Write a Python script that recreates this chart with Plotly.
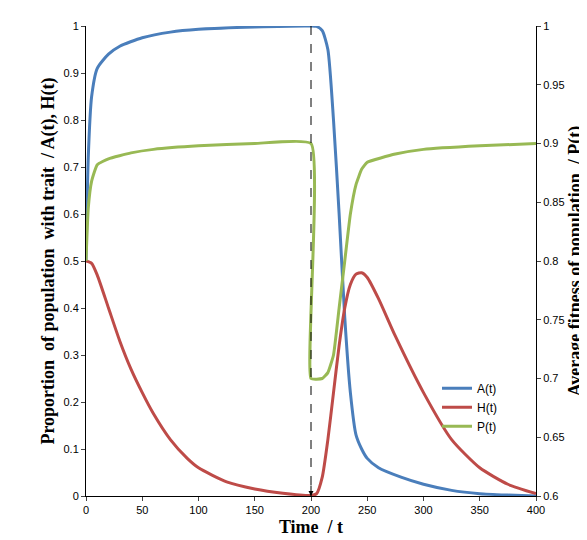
import plotly.graph_objects as go

tA = [0,2,5,10,20,30,50,75,100,150,200,205,210,215,220,225,230,235,240,245,250,260,280,300,325,350,375,400]
A = [0.5,0.72,0.85,0.91,0.94,0.957,0.975,0.987,0.993,0.998,1,0.999,0.99,0.95,0.8,0.6,0.38,0.22,0.13,0.1,0.08,0.06,0.04,0.025,0.012,0.005,0.002,0.0]
tH = [0,5,10,20,30,40,50,60,75,90,100,125,150,175,200,205,210,215,220,225,230,235,240,245,250,260,275,300,325,350,375,400]
H = [0.5,0.495,0.47,0.4,0.33,0.27,0.22,0.175,0.12,0.08,0.06,0.03,0.015,0.006,0.001,0.005,0.04,0.12,0.22,0.32,0.4,0.45,0.472,0.475,0.465,0.42,0.34,0.22,0.12,0.06,0.025,0.005]
tP = [0,2,5,10,20,40,60,100,150,200,200,210,215,220,225,230,235,240,245,250,275,300,350,400]
P = [0.8,0.845,0.868,0.882,0.887,0.892,0.895,0.898,0.9,0.9,0.7,0.7,0.705,0.72,0.76,0.8,0.84,0.865,0.878,0.884,0.891,0.895,0.898,0.9]

fig = go.Figure()
fig.add_trace(go.Scatter(x=tA, y=A, name="A(t)", mode="lines", line=dict(color="#4A7EBB", width=3, shape="spline", smoothing=0.6)))
fig.add_trace(go.Scatter(x=tH, y=H, name="H(t)", mode="lines", line=dict(color="#BE4B48", width=3, shape="spline", smoothing=0.6)))
fig.add_trace(go.Scatter(x=tP, y=P, name="P(t)", mode="lines", yaxis="y2", line=dict(color="#98B954", width=3, shape="spline", smoothing=0.4)))

fig.add_shape(type="line", x0=200, x1=200, y0=1, y1=0, xref="x", yref="y", line=dict(color="black", width=1, dash="dash"))
fig.add_annotation(x=200, y=0, xref="x", yref="y", ax=0, ay=-12, showarrow=True, arrowhead=2, arrowsize=1, arrowwidth=1, arrowcolor="black", text="")

tickfont = dict(family="Liberation Sans", size=11, color="black")
titlefont = dict(family="Liberation Serif", size=18, color="black")
fig.update_layout(
    width=587, height=540, plot_bgcolor="white", paper_bgcolor="white",
    margin=dict(l=78, r=59, t=18, b=52, autoexpand=False),
    xaxis=dict(range=[0, 400], dtick=50, showline=True, linecolor="black", showgrid=False, zeroline=False,
               ticks="outside", ticklen=4, tickfont=tickfont, automargin=False,
               title=dict(text="<b>Time  / t</b>", font=titlefont, standoff=5)),
    yaxis=dict(range=[0, 1], dtick=0.1, showline=True, linecolor="black", showgrid=False, zeroline=False,
               ticks="outside", ticklen=4, tickfont=tickfont, automargin=False,
               title=dict(text="<b>Proportion  of population  with trait  / A(t), H(t)</b>", font=titlefont, standoff=4)),
    yaxis2=dict(range=[0.6, 1], dtick=0.05, overlaying="y", side="right", showline=True, linecolor="black",
                showgrid=False, zeroline=False, ticks="outside", ticklen=4, tickfont=tickfont, automargin=False,
                title=dict(text="<b>Average fitness of population  / P(t)</b>", font=titlefont, standoff=4)),
    legend=dict(x=0.78, y=0.26, xanchor="left", yanchor="top", font=dict(family="Liberation Sans", size=12, color="black"),
                bgcolor="rgba(0,0,0,0)"),
)
fig.write_html("out.html")
